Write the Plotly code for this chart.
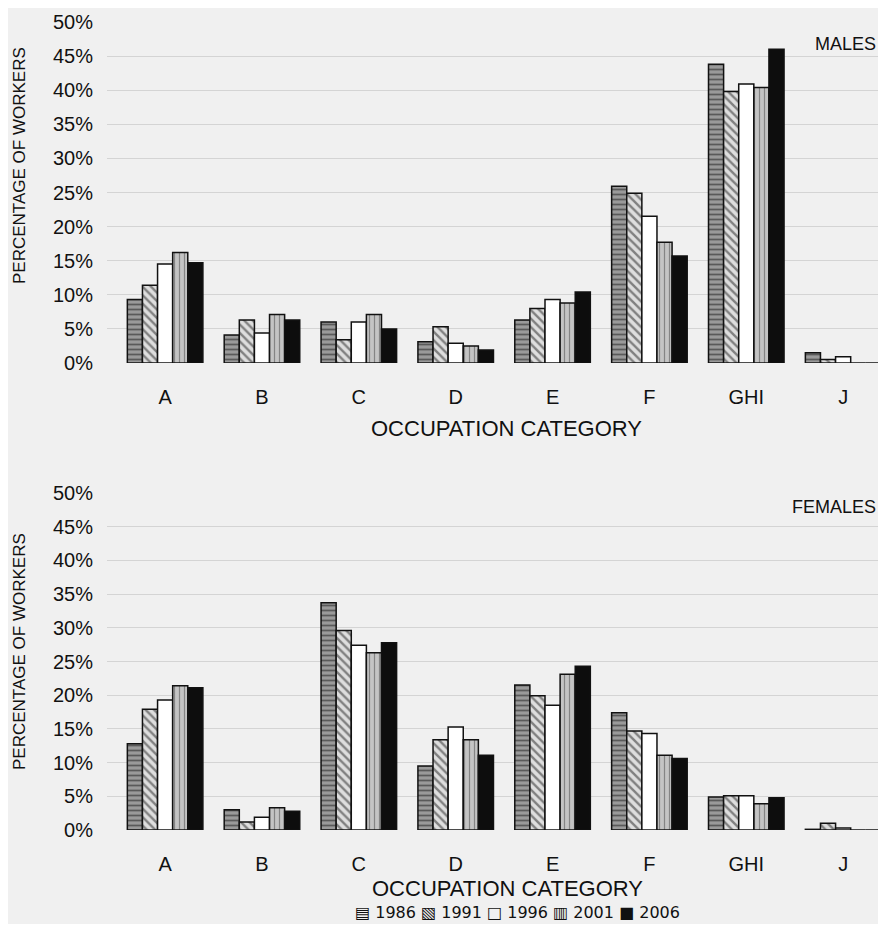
import plotly.graph_objects as go

categories = ["A", "B", "C", "D", "E", "F", "GHI", "J"]
years = ["1986", "1991", "1996", "2001", "2006"]

males_1986 = [9.3, 4.1, 6.0, 3.1, 6.3, 25.9, 43.8, 1.5]
males_1991 = [11.4, 6.3, 3.4, 5.3, 8.0, 24.9, 39.8, 0.5]
males_1996 = [14.5, 4.4, 6.0, 2.9, 9.3, 21.5, 40.9, 0.9]
males_2001 = [16.2, 7.1, 7.1, 2.5, 8.8, 17.7, 40.4, 0.0]
males_2006 = [14.7, 6.3, 5.0, 1.9, 10.4, 15.7, 46.0, 0.0]

females_1986 = [12.8, 3.0, 33.7, 9.5, 21.5, 17.4, 4.9, 0.1]
females_1991 = [17.9, 1.2, 29.6, 13.4, 19.9, 14.7, 5.1, 1.0]
females_1996 = [19.3, 1.9, 27.4, 15.3, 18.5, 14.3, 5.1, 0.3]
females_2001 = [21.4, 3.3, 26.3, 13.4, 23.1, 11.1, 3.9, 0.0]
females_2006 = [21.1, 2.8, 27.8, 11.1, 24.3, 10.6, 4.8, 0.0]

y_ticks = [0, 5, 10, 15, 20, 25, 30, 35, 40, 45, 50]
y_ticklabels = [f"{v}%" for v in y_ticks]

males = [males_1986, males_1991, males_1996, males_2001, males_2006]
females = [females_1986, females_1991, females_1996, females_2001, females_2006]

styles = [
    dict(color="#9a9a9a", pattern=dict(shape="-", fgcolor="#1a1a1a", bgcolor="#9a9a9a", size=5, solidity=0.35)),
    dict(color="#dedede", pattern=dict(shape="\\", fgcolor="#222222", bgcolor="#dedede", size=6, solidity=0.4)),
    dict(color="#ffffff"),
    dict(color="#bdbdbd", pattern=dict(shape="|", fgcolor="#444444", bgcolor="#c4c4c4", size=5, solidity=0.25)),
    dict(color="#0d0d0d"),
]

BG = "#f0f0f0"
FONT = "Liberation Sans, Arial, sans-serif"

fig = go.Figure()
for i, yr in enumerate(years):
    st = styles[i]
    marker = dict(color=st["color"], line=dict(color="#111111", width=1.5))
    if "pattern" in st:
        marker["pattern"] = st["pattern"]
    fig.add_trace(go.Bar(x=categories, y=males[i], name=yr, marker=marker,
                         xaxis="x", yaxis="y", showlegend=False))
    fig.add_trace(go.Bar(x=categories, y=females[i], name=yr, marker=marker,
                         xaxis="x2", yaxis="y2", showlegend=False))

# figure sits inside the page's 8px body margin
OFF = 8
W, H = 886 - 2 * OFF, 932 - 2 * OFF


def px(xr):
    return (xr - OFF) / W


def py(yr):
    return 1 - (yr - OFF) / H


x_dom = [px(107), 1.0]
y_top = [py(363), py(22)]
y_bot = [py(830), py(493)]

xaxis_common = dict(
    domain=x_dom, range=[-0.6, 7.36], type="category",
    showgrid=False, zeroline=False, showline=False, automargin=False,
    ticks="outside", ticklen=16, tickcolor="rgba(0,0,0,0)",
    tickfont=dict(family=FONT, size=20, color="#111111"),
)
yaxis_common = dict(
    range=[0, 50], tickvals=y_ticks, ticktext=y_ticklabels,
    showgrid=True, gridcolor="#d4d4d4", gridwidth=1,
    zeroline=False, showline=False, automargin=False,
    ticks="outside", ticklen=9, tickcolor="rgba(0,0,0,0)",
    tickfont=dict(family=FONT, size=20, color="#111111"),
)

fig.update_layout(
    width=W, height=H, autosize=False,
    margin=dict(l=0, r=0, t=0, b=0, pad=0),
    paper_bgcolor=BG, plot_bgcolor=BG,
    barmode="group", bargap=0.22, bargroupgap=0.0,
    xaxis=dict(**xaxis_common, anchor="y"),
    yaxis=dict(**yaxis_common, domain=y_top, anchor="x"),
    xaxis2=dict(**xaxis_common, anchor="y2"),
    yaxis2=dict(**yaxis_common, domain=y_bot, anchor="x2"),
    showlegend=False,
)

ann_font = dict(family=FONT, color="#111111")
annotations = [
    dict(text="PERCENTAGE OF WORKERS", x=px(19), y=py(166), textangle=-90,
         font=dict(size=17, **ann_font)),
    dict(text="PERCENTAGE OF WORKERS", x=px(19), y=py(652), textangle=-90,
         font=dict(size=17, **ann_font)),
    dict(text="OCCUPATION CATEGORY", x=px(506), y=py(428),
         font=dict(size=22, **ann_font)),
    dict(text="OCCUPATION CATEGORY", x=px(508), y=py(888),
         font=dict(size=22, **ann_font)),
    dict(text="MALES", x=1.0, y=py(44), xanchor="right",
         font=dict(size=18, **ann_font)),
    dict(text="FEMALES", x=1.0, y=py(507), xanchor="right",
         font=dict(size=18, **ann_font)),
    dict(text="▤ 1986 ▧ 1991 □ 1996 ▥ 2001 ■ 2006", x=px(518), y=py(912),
         borderpad=0,
         font=dict(size=16, family="DejaVu Sans, Liberation Sans", color="#111111")),
]
for a in annotations:
    a.update(xref="paper", yref="paper", showarrow=False)
    a.setdefault("xanchor", "center")
    a["yanchor"] = "middle"
fig.update_layout(annotations=annotations)

fig.write_html("out.html")
